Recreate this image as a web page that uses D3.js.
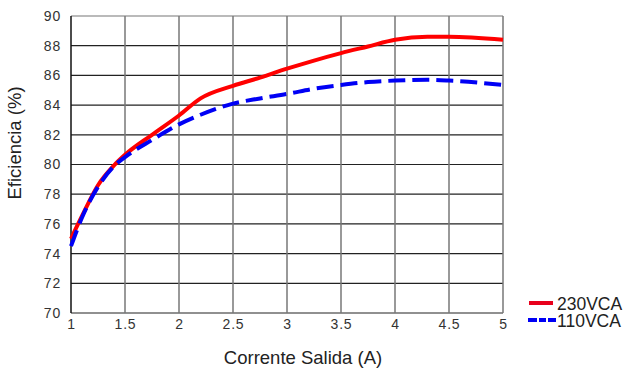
<!DOCTYPE html>
<html>
<head>
<meta charset="utf-8">
<script src="https://cdn.jsdelivr.net/npm/d3@7"></script>
<style>
  body { margin: 0; background: #fff; }
  text { font-family: "Liberation Sans", Arial, sans-serif; }
</style>
</head>
<body>
<div class="chart"></div>
<script>
// Data
var current = [1, 1.1, 1.25, 1.4, 1.5, 1.75, 2, 2.2, 2.5, 2.75, 3, 3.25, 3.5, 3.75, 4, 4.3, 4.5, 5];
var eff230 = [75.0, 76.5, 78.6, 79.95, 80.65, 82.0, 83.3, 84.45, 85.3, 85.85, 86.45, 87.0, 87.5, 87.95, 88.4, 88.6, 88.6, 88.4];
var eff110 = [74.5, 76.4, 78.5, 79.9, 80.5, 81.65, 82.7, 83.35, 84.1, 84.45, 84.75, 85.1, 85.35, 85.55, 85.65, 85.7, 85.65, 85.35];
var xTicks = [1, 1.5, 2, 2.5, 3, 3.5, 4, 4.5, 5];
var yTicks = [70, 72, 74, 76, 78, 80, 82, 84, 86, 88, 90];
var seriesNames = ["230VCA", "110VCA"];

// Chart Params
var svgWidth = 633;
var svgHeight = 371;
var margin = { top: 16, right: 130, bottom: 58, left: 71 };
var width = 503 - margin.left;
var height = 313 - margin.top;

var svg = d3.select(".chart")
  .append("svg")
  .attr("width", svgWidth)
  .attr("height", svgHeight);

var chartGroup = svg.append("g")
  .attr("transform", `translate(${margin.left}, ${margin.top})`);

var xScale = d3.scaleLinear().domain([1, 5]).range([0, width]);
var yScale = d3.scaleLinear().domain([70, 90]).range([height, 0]);

// grid lines
chartGroup.selectAll(".hgrid")
  .data(yTicks)
  .enter()
  .append("line")
  .attr("x1", 0)
  .attr("x2", width)
  .attr("y1", d => yScale(d))
  .attr("y2", d => yScale(d))
  .attr("stroke", d => (d === 90 ? "#777" : "#222"))
  .attr("stroke-width", 1.2);

chartGroup.selectAll(".vgrid")
  .data(xTicks)
  .enter()
  .append("line")
  .attr("x1", d => xScale(d))
  .attr("x2", d => xScale(d))
  .attr("y1", 0)
  .attr("y2", height)
  .attr("stroke", d => (d === 1 ? "#111" : "#777"))
  .attr("stroke-width", 1.5);

// axes (labels only)
var bottomAxis = d3.axisBottom(xScale).tickValues(xTicks).tickSize(0).tickPadding(16)
  .tickFormat(d3.format("~g"));
var leftAxis = d3.axisLeft(yScale).tickValues(yTicks).tickSize(0).tickPadding(10);

var gx = chartGroup.append("g")
  .attr("transform", `translate(0, ${height})`)
  .call(bottomAxis);
var gy = chartGroup.append("g").call(leftAxis);

[gx, gy].forEach(function(g) {
  g.select(".domain").remove();
  g.selectAll("text")
    .style("font-family", "'Liberation Sans', Arial, sans-serif")
    .style("font-size", "14px")
    .style("letter-spacing", "0.8px")
    .attr("fill", "#333");
});
gx.selectAll("text").attr("dy", "0");

// lines
var line230 = d3.line()
  .x((d, i) => xScale(current[i]))
  .y(d => yScale(d))
  .curve(d3.curveMonotoneX);

chartGroup.append("path")
  .datum(eff230)
  .attr("d", line230)
  .attr("fill", "none")
  .attr("stroke", "#f00")
  .attr("stroke-width", 4);

chartGroup.append("path")
  .datum(eff110)
  .attr("d", line230)
  .attr("fill", "none")
  .attr("stroke", "#0000f5")
  .attr("stroke-width", 4)
  .attr("stroke-dasharray", "17,7");

// axis titles
svg.append("text")
  .attr("x", 303)
  .attr("y", 364)
  .attr("text-anchor", "middle")
  .style("font-size", "18.5px")
  .attr("fill", "#222")
  .text("Corrente Salida (A)");

svg.append("text")
  .attr("transform", "translate(21, 143) rotate(-90)")
  .attr("text-anchor", "middle")
  .style("font-size", "18.5px")
  .attr("fill", "#222")
  .text("Eficiencia (%)");

// legend
var legend = svg.append("g").attr("transform", "translate(528, 303)");
legend.append("line")
  .attr("x1", 1).attr("x2", 25).attr("y1", 0).attr("y2", 0)
  .attr("stroke", "#e8001c").attr("stroke-width", 4);
legend.append("line")
  .attr("x1", 0).attr("x2", 28).attr("y1", 17).attr("y2", 17)
  .attr("stroke", "#0000f5").attr("stroke-width", 4)
  .attr("stroke-dasharray", "9,2,7,2,8");
legend.selectAll(".ltext")
  .data(seriesNames)
  .enter()
  .append("text")
  .attr("x", 29)
  .attr("y", (d, i) => 6.5 + i * 17)
  .style("font-size", "17.5px")
  .attr("fill", "#222")
  .text(d => d);
</script>
</body>
</html>
